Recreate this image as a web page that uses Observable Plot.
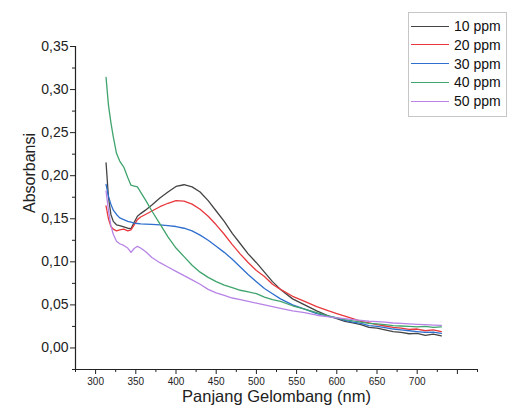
<!DOCTYPE html>
<html><head><meta charset="utf-8">
<script src="https://cdn.jsdelivr.net/npm/d3@7"></script>
<script src="https://cdn.jsdelivr.net/npm/@observablehq/plot@0.6"></script>
<style>
body{margin:0;background:#fff;}
#wrap{position:relative;width:513px;height:419px;font-family:"Liberation Sans",Arial,sans-serif;}
#legend{position:absolute;left:408px;top:12px;width:99px;height:105px;border:1px solid #c6c6c6;box-sizing:border-box;background:#fff;}
.row{position:absolute;left:2px;height:18px;display:flex;align-items:center;font-size:14px;color:#111;white-space:nowrap}
.sw{width:38px;height:0;border-top:1.5px solid;margin-right:5px}
</style></head>
<body><div id="wrap"></div>
<script>
const wavelength = [313,316,319,322,326,330,335,340,344,348,352,356,362,370,380,390,400,410,420,430,440,450,460,470,480,490,500,510,520,530,545,560,575,590,600,610,620,630,640,650,660,670,680,690,700,710,720,730];
const ppm10 = [0.215,0.175,0.155,0.147,0.143,0.142,0.1405,0.139,0.1385,0.146,0.153,0.156,0.160,0.166,0.174,0.181,0.1875,0.1895,0.187,0.181,0.171,0.159,0.147,0.133,0.121,0.109,0.099,0.088,0.077,0.068,0.057,0.050,0.043,0.037,0.034,0.031,0.029,0.027,0.024,0.023,0.021,0.019,0.018,0.0165,0.017,0.0145,0.016,0.014];
const ppm20 = [0.165,0.150,0.141,0.138,0.136,0.137,0.138,0.136,0.137,0.143,0.149,0.152,0.155,0.159,0.164,0.168,0.171,0.1705,0.167,0.161,0.153,0.143,0.132,0.120,0.109,0.099,0.090,0.083,0.074,0.068,0.060,0.054,0.048,0.043,0.040,0.037,0.034,0.031,0.029,0.027,0.0255,0.024,0.023,0.0215,0.022,0.020,0.021,0.019];
const ppm30 = [0.190,0.176,0.167,0.160,0.155,0.151,0.149,0.147,0.146,0.145,0.1445,0.144,0.1438,0.1435,0.143,0.142,0.141,0.139,0.136,0.131,0.125,0.118,0.111,0.103,0.094,0.085,0.077,0.069,0.063,0.057,0.050,0.045,0.040,0.037,0.035,0.032,0.030,0.0285,0.026,0.025,0.0235,0.022,0.021,0.020,0.019,0.018,0.0185,0.017];
const ppm40 = [0.314,0.282,0.262,0.245,0.226,0.217,0.210,0.198,0.189,0.188,0.187,0.181,0.172,0.159,0.144,0.129,0.116,0.106,0.096,0.088,0.082,0.077,0.073,0.070,0.067,0.065,0.063,0.059,0.056,0.054,0.049,0.045,0.041,0.037,0.035,0.033,0.0315,0.030,0.0285,0.028,0.027,0.026,0.0255,0.025,0.0245,0.025,0.024,0.0245];
const ppm50 = [0.182,0.160,0.142,0.132,0.124,0.121,0.119,0.116,0.111,0.1155,0.118,0.116,0.112,0.105,0.099,0.094,0.089,0.084,0.079,0.074,0.068,0.064,0.061,0.058,0.056,0.054,0.052,0.050,0.048,0.046,0.043,0.041,0.038,0.036,0.035,0.034,0.033,0.032,0.031,0.0305,0.030,0.029,0.0285,0.028,0.0275,0.027,0.0265,0.0262];
const seriesNames = ["10 ppm","20 ppm","30 ppm","40 ppm","50 ppm"];
const seriesColors = ["#444444","#e8383d","#2f6fce","#3fa46d","#b784e6"];
const xDomain = [275, 775];
const yDomain = [-0.025, 0.35];
const xMajorTicks = [300,350,400,450,500,550,600,650,700,750];
const xTickLabels = [300,350,400,450,500,550,600,650,700];
const xMinorTicks = [275,325,375,425,475,525,575,625,675,725,775];
const yMajorTicks = [0,0.05,0.10,0.15,0.20,0.25,0.30,0.35];
const yMinorTicks = [-0.025,0.025,0.075,0.125,0.175,0.225,0.275,0.325];
const xTitle = "Panjang Gelombang (nm)";
const yTitle = "Absorbansi";

const seriesValues = [ppm10, ppm20, ppm30, ppm40, ppm50];
const rows = seriesNames.flatMap((name, i) => wavelength.map((w, j) => ({series: name, wl: w, a: seriesValues[i][j]})));
const fmt = d => d.toFixed(2).replace(".", ",");
const font = '"Liberation Sans", Arial, sans-serif';

const chart = Plot.plot({
  width: 513, height: 419,
  marginLeft: 75, marginRight: 36, marginTop: 46, marginBottom: 50,
  style: {fontFamily: font, color: "#222", background: "#fff", overflow: "visible"},
  x: {domain: xDomain},
  y: {domain: yDomain},
  color: {domain: seriesNames, range: seriesColors},
  marks: [
    Plot.lineY(rows, {x: "wl", y: "a", stroke: "series", strokeWidth: 1.3}),
    Plot.ruleX([xDomain[0]], {y1: yDomain[0], y2: yDomain[1], stroke: "#222", strokeWidth: 1.2}),
    Plot.ruleY([yDomain[0]], {x1: xDomain[0], x2: xDomain[1], stroke: "#222", strokeWidth: 1.2}),
    Plot.axisY(yMajorTicks, {tickSize: 5, tickPadding: 2, tickFormat: fmt, fontSize: 14, label: null}),
    Plot.axisY(yMinorTicks, {tickSize: 3, tickFormat: () => "", label: null}),
    Plot.axisX(xMajorTicks, {tickSize: 5, tickPadding: 3, tickFormat: d => xTickLabels.includes(d) ? String(d) : "", fontSize: 10, label: null}),
    Plot.axisX(xMinorTicks, {tickSize: 3, tickFormat: () => "", label: null}),
    Plot.text([yTitle], {frameAnchor: "left", dx: -46, dy: 5, rotate: -90, fontSize: 16, fill: "#222"}),
    Plot.text([xTitle], {frameAnchor: "bottom", dy: 32, fontSize: 16.5, fill: "#222"})
  ]
});
const wrap = document.getElementById("wrap");
wrap.appendChild(chart);
const legend = document.createElement("div");
legend.id = "legend";
seriesNames.forEach((name, i) => {
  const row = document.createElement("div");
  row.className = "row";
  row.style.top = (4 + i * 18.8) + "px";
  const sw = document.createElement("span");
  sw.className = "sw";
  sw.style.borderTopColor = seriesColors[i];
  const t = document.createElement("span");
  t.textContent = name;
  row.appendChild(sw); row.appendChild(t);
  legend.appendChild(row);
});
wrap.appendChild(legend);
</script>
</body></html>
